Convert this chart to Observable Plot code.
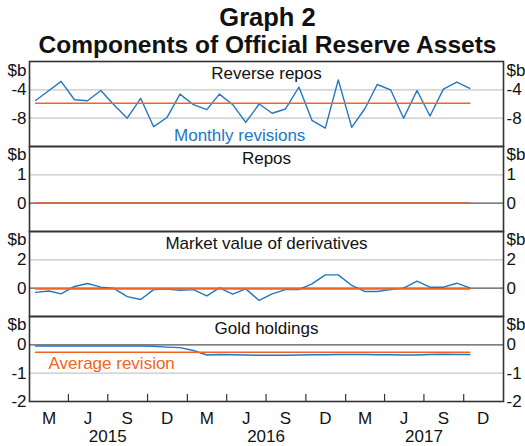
<!DOCTYPE html>
<html><head><meta charset="utf-8">
<script src="https://cdn.jsdelivr.net/npm/d3@7"></script>
<script src="https://cdn.jsdelivr.net/npm/@observablehq/plot@0.6"></script>
<style>
body{margin:0;background:#fff;font-family:"Liberation Sans",Arial,sans-serif;}
#chart{position:relative;width:525px;height:446px;overflow:hidden;}
.t{position:absolute;left:0;width:535px;text-align:center;font-weight:bold;color:#111;white-space:nowrap;}
.p{position:absolute;left:0;}
</style></head><body>
<div id="chart">
<div class="t" style="top:3px;font-size:25.5px;line-height:28px;">Graph 2</div>
<div class="t" style="top:32px;font-size:24.5px;line-height:26px;">Components of Official Reserve Assets</div>
</div>
<script>
// Monthly observations, Jan 2015 – Oct 2017
const months = d3.utcMonths(new Date(Date.UTC(2015,0,1)), new Date(Date.UTC(2017,10,1)));
const reverseRepos = [-5.5,-4.1,-2.8,-5.4,-5.55,-4.1,-6.1,-8.0,-5.2,-9.2,-7.9,-4.6,-6.1,-6.8,-4.6,-6.1,-8.6,-6.0,
  -7.3,-6.7,-3.6,-8.3,-9.4,-2.6,-9.3,-6.6,-3.25,-4.0,-8.0,-4.1,-7.7,-3.9,-2.9,-3.8];
const repos = [0,0,0,0,0,0,0,0,0,0,0,0,0,0,0,0,0,0,0,0,0,0,0,0,0,0,0,0,0,0,0,0,0,0];
const derivatives = [-0.3,-0.2,-0.4,0.12,0.33,0.07,-0.02,-0.6,-0.8,-0.1,-0.07,-0.15,-0.1,-0.55,0.02,-0.42,-0.05,-0.87,
  -0.4,-0.1,-0.1,0.3,0.94,0.94,0.19,-0.24,-0.24,-0.1,0,0.5,0.07,0.07,0.35,0.02];
const gold = [-0.04,-0.04,-0.04,-0.04,-0.04,-0.04,-0.04,-0.04,-0.04,-0.05,-0.08,-0.1,-0.2,-0.36,-0.34,-0.35,-0.36,-0.37,
  -0.37,-0.37,-0.36,-0.35,-0.35,-0.34,-0.34,-0.34,-0.35,-0.35,-0.36,-0.36,-0.34,-0.33,-0.34,-0.34];
const averages = [-5.9, 0, -0.05, -0.26];
const panelTitles = ["Reverse repos","Repos","Market value of derivatives","Gold holdings"];
const quarterLabels = ["M","J","S","D"];
const yearLabels = ["2015","2016","2017"];

const BLUE = "#2277c4", ORANGE = "#f06424", FONT = '"Liberation Sans", Arial, sans-serif';
const xDomain = [new Date(Date.UTC(2015,0,1)), new Date(Date.UTC(2018,0,1))];
const mid = d => d3.utcDay.offset(d, 14);

const panels = [
  {values: reverseRepos, domain: [-12, 0], ticks: [-4, -8], grid: [-4, -8], zero: false,
   note: {text: "Monthly revisions", fill: BLUE, x: new Date(Date.UTC(2016,4,1)), y: -10.45}},
  {values: repos, domain: [-1, 2], ticks: [0, 1], grid: [1], zero: true},
  {values: derivatives, domain: [-2, 4], ticks: [0, 2], grid: [2], zero: true},
  {values: gold, domain: [-2, 1], ticks: [0, -1, -2], grid: [-1], zero: true,
   note: {text: "Average revision", fill: ORANGE, x: new Date(Date.UTC(2015,6,10)), y: -0.66}}
];

const chart = document.getElementById("chart");
const tops = [61, 146, 231, 316];

panels.forEach((cfg, i) => {
  const last = i === panels.length - 1;
  const data = months.map((m, j) => ({date: mid(m), value: cfg.values[j], avg: averages[i]}));
  const marks = [
    Plot.ruleY(cfg.grid, {stroke: "#c6c6c6", strokeWidth: 1.2}),
  ];
  if (cfg.zero) marks.push(Plot.ruleY([0], {stroke: "#555", strokeWidth: 1.2}));
  const dyB = i === 0 ? 9 : 8;
  marks.push(
    Plot.lineY(data, {x: "date", y: "value", stroke: BLUE, strokeWidth: 1.4}),
    Plot.lineY(data, {x: "date", y: "avg", stroke: ORANGE, strokeWidth: 1.6}),
    Plot.text([panelTitles[i]], {frameAnchor: "top", lineAnchor: "middle", dy: 12, fontSize: 17, fill: "#111"}),
    Plot.text(["$b"], {frameAnchor: "top-left", lineAnchor: "middle", textAnchor: "end", dx: -3, dy: dyB, fontSize: 17, fill: "#111"}),
    Plot.text(["$b"], {frameAnchor: "top-right", lineAnchor: "middle", textAnchor: "start", dx: 3, dy: dyB, fontSize: 17, fill: "#111"}),
    Plot.axisY(cfg.ticks, {anchor: "left", tickSize: 0, tickPadding: 3, label: null, fontSize: 17, tickFormat: d => String(d), fill: "#111"}),
    Plot.axisY(cfg.ticks, {anchor: "right", tickSize: 0, tickPadding: 3, label: null, fontSize: 17, tickFormat: d => String(d), fill: "#111"})
  );
  if (cfg.note) {
    marks.push(Plot.text([cfg.note], {x: "x", y: "y", text: "text", fill: cfg.note.fill, fontSize: 17, lineAnchor: "middle"}));
  }
  if (last) {
    const qStarts = d3.utcMonths(xDomain[0], xDomain[1], 3);
    const quarters = qStarts.map((q, k) => ({start: q, mid: d3.utcDay.offset(q, 45), label: quarterLabels[k % 4]}));
    const years = yearLabels.map(y => ({x: new Date(Date.UTC(+y, 6, 1)), label: y}));
    marks.push(
      Plot.ruleX(quarters.slice(1), {x: "start", y1: cfg.domain[0], y2: cfg.domain[0] + 0.25, stroke: "#333", strokeWidth: 1.2}),
      Plot.text(quarters, {x: "mid", text: "label", frameAnchor: "bottom", lineAnchor: "middle", dy: 17, fontSize: 17, fill: "#111"}),
      Plot.text(years, {x: "x", text: "label", frameAnchor: "bottom", lineAnchor: "middle", dy: 35, fontSize: 17, fill: "#111"})
    );
  }
  marks.push(Plot.frame({stroke: "#333", strokeWidth: 1.6}));
  const svg = Plot.plot({
    width: 525,
    height: last ? 129 : 85,
    marginLeft: 29, marginRight: 22, marginTop: 0, marginBottom: last ? 44 : 0,
    x: {type: "utc", domain: xDomain, axis: null},
    y: {domain: cfg.domain, axis: null},
    style: {background: "none", overflow: "visible", fontFamily: FONT, fontSize: "17px", color: "#111"},
    marks
  });
  svg.classList.add("p");
  svg.style.position = "absolute";
  svg.style.top = tops[i] + "px";
  svg.style.left = "0px";
  chart.appendChild(svg);
});
</script>
</body></html>
